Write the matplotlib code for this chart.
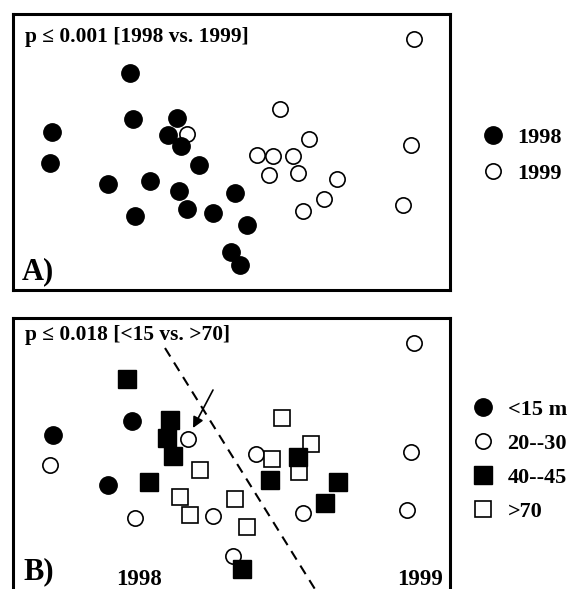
import matplotlib
matplotlib.use('Agg')
import matplotlib.pyplot as plt

plt.rcParams['font.family'] = ['Liberation Serif', 'DejaVu Serif']
plt.rcParams['font.weight'] = 'bold'

# ordination scores, panel A (by year)
a98_x = [117, 120, 39, 37, 164, 155, 168, 186, 95, 137, 166, 122, 174, 200, 222, 234, 218, 227]
a98_y = [217, 171, 158, 127, 172, 155, 144, 125, 106, 109, 99, 74, 81, 77, 97, 65, 38, 25]
a99_x = [174, 267, 296, 244, 260, 280, 256, 285, 324, 311, 290, 401, 398, 390]
a99_y = [156, 181, 151, 135, 134, 134, 115, 117, 111, 91, 79, 251, 145, 85]

# panel B (by depth class)
d15_x = [40, 119, 95]
d15_y = [159, 173, 109]
d20_x = [37, 175, 243, 122, 200, 290, 220, 401, 398, 394]
d20_y = [129, 155, 140, 76, 78, 81, 38, 251, 142, 84]
d40_x = [114, 157, 154, 160, 136, 257, 285, 325, 312, 229]
d40_y = [215, 174, 156, 138, 112, 114, 137, 112, 91, 25]
d70_x = [269, 298, 259, 286, 187, 167, 177, 222, 234]
d70_y = [176, 150, 135, 122, 124, 97, 79, 95, 67]

split_x = [152, 305]
split_y = [246, 0]

W, H = 574, 589
fig = plt.figure(figsize=(W / 100, H / 100), dpi=100)

axA = fig.add_axes([13 / W, 1 - 290 / H, 437 / W, 276 / H])
axB = fig.add_axes([13 / W, 1 - 594 / H, 437 / W, 276 / H])

for ax in (axA, axB):
    ax.set_xlim(0, 437)
    ax.set_ylim(0, 276)
    ax.set_xticks([])
    ax.set_yticks([])
    for s in ax.spines.values():
        s.set_linewidth(2.2)

# panel A
axA.plot(a99_x, a99_y, 'o', ms=11, mfc='white', mec='black', mew=1.2, label='1999', zorder=2)
axA.plot(a98_x, a98_y, 'o', ms=12.5, mfc='black', mec='black', label='1998', zorder=3)
axA.text(12, 248, 'p ≤ 0.001 [1998 vs. 1999]', fontsize=15.4, fontweight='bold')
axA.text(9, 11, 'A)', fontsize=22, fontweight='bold')

h, l = axA.get_legend_handles_labels()
fig.legend(h[::-1], l[::-1], loc='center left', bbox_to_anchor=(482 / W, 1 - 155.5 / H),
           frameon=False, handlelength=1.0, handletextpad=0.6,
           borderpad=0, borderaxespad=0, labelspacing=0.68, numpoints=1,
           prop={'weight': 'bold', 'size': 16})

# panel B
axB.plot(d20_x, d20_y, 'o', ms=11, mfc='white', mec='black', mew=1.2, label='20--30', zorder=2)
axB.plot(d70_x, d70_y, 's', ms=12, mfc='white', mec='black', mew=1.2, label='>70', zorder=3)
axB.plot(d40_x, d40_y, 's', ms=13, mfc='black', mec='black', label='40--45', zorder=4)
axB.plot(d15_x, d15_y, 'o', ms=12.5, mfc='black', mec='black', label='<15 m', zorder=5)
axB.plot(split_x, split_y, '--', color='black', lw=1.5, dashes=(4.8, 3.4), zorder=1)
axB.annotate('', xy=(180, 166), xytext=(200, 204),
             arrowprops=dict(arrowstyle='-|>', color='black', lw=1.2,
                             mutation_scale=16, shrinkA=0, shrinkB=0))
axB.text(12, 254, 'p ≤ 0.018 [<15 vs. >70]', fontsize=15.4, fontweight='bold')
axB.text(10, 15, 'B)', fontsize=22, fontweight='bold')
axB.text(126, 9, '1998', fontsize=16.5, fontweight='bold', ha='center')
axB.text(407, 9, '1999', fontsize=16.5, fontweight='bold', ha='center')

h, l = axB.get_legend_handles_labels()
order = [3, 0, 2, 1]
fig.legend([h[i] for i in order], [l[i] for i in order], loc='center left',
           bbox_to_anchor=(472 / W, 1 - 460.5 / H),
           frameon=False, handlelength=1.0, handletextpad=0.6,
           borderpad=0, borderaxespad=0, labelspacing=0.6, numpoints=1,
           prop={'weight': 'bold', 'size': 16})

fig.savefig('out.png', dpi=100)
